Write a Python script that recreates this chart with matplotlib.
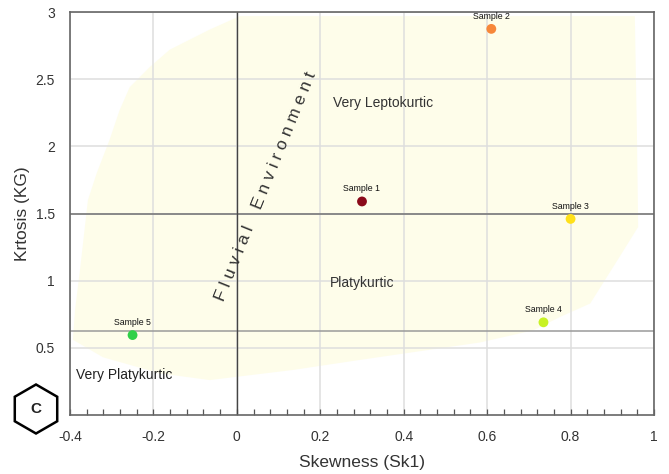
import matplotlib.pyplot as plt
import numpy as np
from matplotlib.patches import Polygon, RegularPolygon
from matplotlib.ticker import MultipleLocator

plt.rcParams["font.family"] = ["Liberation Sans", "DejaVu Sans"]

# sample data
samples = ["Sample 1", "Sample 2", "Sample 3", "Sample 4", "Sample 5"]
skewness = [0.30, 0.61, 0.80, 0.735, -0.25]
kurtosis = [1.59, 2.875, 1.46, 0.69, 0.595]
colors = ["#8b0a1a", "#f7873a", "#ffe01a", "#c8f224", "#2fd048"]

# fluvial environment field (data coords)
field_x = [0.007, 0.954, 0.959, 0.962, 0.918, 0.847, 0.775, 0.710, 0.583, 0.295,
           0.134, -0.065, -0.185, -0.321, -0.393, -0.388, -0.376, -0.357, -0.336,
           -0.305, -0.281, -0.257, -0.209, -0.161, -0.065]
field_y = [2.97, 2.97, 2.10, 1.40, 1.18, 0.83, 0.73, 0.63, 0.54, 0.41,
           0.335, 0.26, 0.31, 0.43, 0.56, 0.78, 1.08, 1.60, 1.80,
           2.05, 2.27, 2.44, 2.59, 2.72, 2.87]

# class boundaries
kg_leptokurtic = 1.5
kg_platykurtic = 0.625

fig = plt.figure(figsize=(6.69, 4.74), dpi=100)
ax = fig.add_axes([0.1046, 0.1245, 0.873, 0.850])

ax.add_patch(Polygon(np.column_stack([field_x, field_y]), closed=True,
                     facecolor="#fefdea", edgecolor="none", zorder=0))

ax.set_xlim(-0.4, 1)
ax.set_ylim(0, 3)
ax.set_xticks(np.arange(-0.4, 1.01, 0.2))
ax.set_xticklabels(["-0.4", "-0.2", "0", "0.2", "0.4", "0.6", "0.8", "1"])
ax.xaxis.set_minor_locator(MultipleLocator(0.04))
ax.set_yticks([0.5, 1, 1.5, 2, 2.5, 3])
ax.set_yticklabels(["0.5", "1", "1.5", "2", "2.5", "3"])
ax.grid(True, color="#dedede", lw=1.1, zorder=1)
ax.set_axisbelow(True)

ax.tick_params(axis="x", which="both", direction="in", length=4, width=0.9,
               color="#555", pad=11, labelsize=10, labelcolor="#333")
ax.tick_params(axis="y", length=0, pad=11, labelsize=10, labelcolor="#333")
for s in ax.spines.values():
    s.set_color("#666")
    s.set_linewidth(1.2)

ax.axhline(kg_leptokurtic, color="#7a7a7a", lw=1.2, zorder=2)
ax.axhline(kg_platykurtic, color="#9a9a9a", lw=1.1, zorder=2)
ax.axvline(0, color="#444", lw=1.0, zorder=2)

ax.scatter(skewness, kurtosis, c=colors, s=50, zorder=4, edgecolors="none")
for name, x, y in zip(samples, skewness, kurtosis):
    ax.annotate(name, (x, y), xytext=(0, 6), textcoords="offset points",
                ha="center", va="bottom", fontsize=6.3, color="#111")

ax.text(0.35, 2.32, "Very Leptokurtic", fontsize=10, color="#333", ha="center", va="center")
ax.text(0.30, 0.98, "Platykurtic", fontsize=10, color="#333", ha="center", va="center")
ax.text(-0.27, 0.30, "Very Platykurtic", fontsize=10, color="#222", ha="center", va="center")
ax.text(0.07, 1.70, "F l u v i a l    E n v i r o n m e n t", fontsize=12.5,
        color="#333", rotation=68, rotation_mode="anchor", ha="center", va="center",
        transform=ax.transData)

ax.set_xlabel("Skewness (Sk1)", fontsize=12.5, color="#333", labelpad=8)
ax.set_ylabel("Krtosis (KG)", fontsize=12.5, color="#333", labelpad=4)

# panel marker
hexagon = RegularPolygon((0.36, 0.65), numVertices=6, radius=0.245,
                         orientation=0, transform=fig.dpi_scale_trans,
                         facecolor="white", edgecolor="black", lw=1.8)
fig.patches.append(hexagon)
fig.text(0.36, 0.65, "C", transform=fig.dpi_scale_trans, ha="center", va="center",
         fontsize=11, fontweight="bold", color="#222")

fig.savefig("out.png", dpi=100)
